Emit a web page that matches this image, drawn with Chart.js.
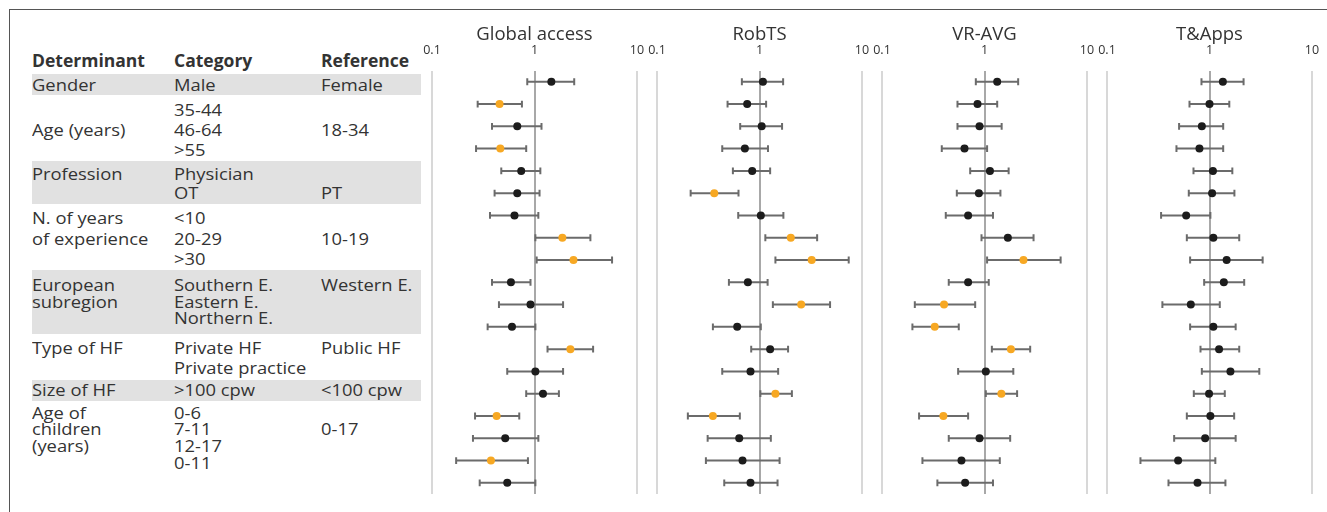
<!DOCTYPE html>
<html>
<head>
<meta charset="utf-8">
<script src="https://cdn.jsdelivr.net/npm/chart.js@4/dist/chart.umd.min.js"></script>
<style>
  html, body { margin: 0; padding: 0; background: #fff; }
  #wrap { position: relative; width: 1327px; height: 512px; overflow: hidden;
          font-family: "Open Sans", "Noto Sans", sans-serif; color: #333; }
  #frameTop { position: absolute; left: 9px; top: 9px; right: 0; height: 0; border-top: 1.5px solid #555; }
  #frameLeft { position: absolute; left: 9px; top: 9px; bottom: 0; width: 0; border-left: 1.5px solid #555; }
  .band { position: absolute; left: 32px; width: 389px; background: #e1e1e1; }
  .cell { position: absolute; white-space: nowrap; font-size: 17px;
          transform: scaleX(1.08); transform-origin: 0 50%; }
  .head { font-weight: 700; transform: scaleX(1.03); }
  canvas { position: absolute; top: 0; }
</style>
</head>
<body>
<div id="wrap">
  <div id="frameTop"></div>
  <div id="frameLeft"></div>
</div>
<script>
// ---- categories (one per plotted row, top to bottom) ----
const categories = ['Male', '35-44', '46-64', '>55', 'Physician', 'OT', '<10', '20-29', '>30',
  'Southern E.', 'Eastern E.', 'Northern E.', 'Private HF', 'Private practice', '>100 cpw',
  '0-6', '7-11', '12-17', '0-11'];

// ---- outcome panels ----
const outcomes = ['Global access', 'RobTS', 'VR-AVG', 'T&Apps'];

// odds ratios, lower and upper 95% CI, significance flag
const globalOR  = [1.46, 0.456, 0.679, 0.464, 0.742, 0.679, 0.638, 1.87, 2.40, 0.589, 0.914, 0.603, 2.24, 1.02, 1.21, 0.427, 0.518, 0.376, 0.542];
const globalLo  = [0.85, 0.279, 0.385, 0.269, 0.474, 0.408, 0.368, 1.02, 1.05, 0.385, 0.45, 0.349, 1.34, 0.542, 0.83, 0.263, 0.251, 0.172, 0.292];
const globalHi  = [2.44, 0.754, 1.17, 0.83, 1.14, 1.12, 1.09, 3.51, 5.71, 0.914, 1.90, 1.02, 3.73, 1.90, 1.73, 0.71, 1.09, 0.863, 1.02];
const globalSig = [0, 1, 0, 1, 0, 0, 0, 1, 1, 0, 0, 0, 1, 0, 0, 1, 0, 1, 0];

const robtsOR  = [1.08, 0.758, 1.05, 0.72, 0.849, 0.362, 1.03, 2.02, 3.23, 0.77, 2.55, 0.606, 1.27, 0.817, 1.43, 0.351, 0.634, 0.683, 0.817];
const robtsLo  = [0.673, 0.488, 0.648, 0.433, 0.55, 0.213, 0.62, 1.14, 1.43, 0.503, 1.35, 0.351, 0.83, 0.433, 1.02, 0.2, 0.312, 0.3, 0.453];
const robtsHi  = [1.70, 1.16, 1.66, 1.21, 1.27, 0.624, 1.71, 3.65, 7.42, 1.20, 4.88, 1.03, 1.90, 1.52, 2.07, 0.643, 1.29, 1.57, 1.50];
const robtsSig = [0, 0, 0, 0, 0, 1, 0, 1, 1, 0, 1, 0, 0, 0, 1, 1, 0, 0, 0];

const vrOR  = [1.33, 0.855, 0.894, 0.638, 1.13, 0.881, 0.692, 1.69, 2.40, 0.692, 0.403, 0.327, 1.81, 1.03, 1.46, 0.397, 0.894, 0.596, 0.647];
const vrLo  = [0.823, 0.545, 0.545, 0.383, 0.725, 0.537, 0.419, 0.935, 1.06, 0.448, 0.209, 0.198, 1.18, 0.553, 1.03, 0.23, 0.448, 0.248, 0.347];
const vrHi  = [2.13, 1.33, 1.47, 1.06, 1.72, 1.43, 1.21, 3.01, 5.53, 1.10, 0.811, 0.561, 2.79, 1.91, 2.08, 0.692, 1.78, 1.41, 1.21];
const vrSig = [0, 0, 0, 0, 0, 0, 0, 0, 1, 0, 1, 1, 1, 0, 1, 1, 0, 0, 0];

const appsOR  = [1.35, 1.0, 0.842, 0.798, 1.08, 1.06, 0.592, 1.09, 1.47, 1.38, 0.657, 1.09, 1.24, 1.60, 0.99, 1.02, 0.907, 0.494, 0.764];
const appsLo  = [0.835, 0.638, 0.505, 0.476, 0.698, 0.628, 0.337, 0.601, 0.647, 0.887, 0.347, 0.647, 0.817, 0.842, 0.703, 0.601, 0.452, 0.212, 0.398];
const appsHi  = [2.15, 1.56, 1.36, 1.36, 1.67, 1.75, 1.02, 1.95, 3.30, 2.18, 1.26, 1.80, 1.95, 3.06, 1.41, 1.74, 1.80, 1.14, 1.43];
const appsSig = [0, 0, 0, 0, 0, 0, 0, 0, 0, 0, 0, 0, 0, 0, 0, 0, 0, 0, 0];

// ---- axis ticks ----
const tickValues = [0.1, 1, 10];
const tickLabels = ['0.1', '1', '10'];

// ---- left-hand table text ----
const headers = ['Determinant', 'Category', 'Reference'];
const determinants = [['Gender'], ['', 'Age (years)'], ['Profession'], ['N. of years', 'of experience'],
  ['European', 'subregion'], ['Type of HF'], ['Size of HF'], ['Age of', 'children', '(years)']];
const categoryLines = [['Male'], ['35-44', '46-64', '>55'], ['Physician', 'OT'], ['<10', '20-29', '>30'],
  ['Southern E.', 'Eastern E.', 'Northern E.'], ['Private HF', 'Private practice'], ['>100 cpw'],
  ['0-6', '7-11', '12-17', '0-11']];
const references = [['Female'], ['', '18-34'], ['', 'PT'], ['', '10-19'], ['Western E.'], ['Public HF'],
  ['<100 cpw'], ['', '0-17']];

// ---- table layout (group band top/height, first line centre, line step) ----
const groupLayout = [
  { top: 73.5, h: 21.5, first: 85, step: 20, band: true },
  { top: 95, h: 65.5, first: 109.5, step: 20.2, band: false },
  { top: 160.5, h: 43.5, first: 174, step: 19.3, band: true },
  { top: 204, h: 66, first: 218.3, step: 20.5, band: false },
  { top: 270, h: 63.5, first: 285, step: 16.7, band: true },
  { top: 333.5, h: 46, first: 348.3, step: 20, band: false },
  { top: 379.5, h: 21.5, first: 390, step: 20, band: true },
  { top: 401, h: 80, first: 412.7, step: 16.7, band: false }
];
const colX = [32, 174, 321];
const LINE_H = 20;

const wrap = document.getElementById('wrap');
function addCell(text, x, yCenter, cls) {
  const d = document.createElement('div');
  d.className = 'cell' + (cls ? ' ' + cls : '');
  d.textContent = text;
  d.style.left = x + 'px';
  d.style.top = (yCenter - LINE_H / 2) + 'px';
  d.style.lineHeight = LINE_H + 'px';
  wrap.appendChild(d);
}
groupLayout.forEach(g => {
  if (g.band) {
    const b = document.createElement('div');
    b.className = 'band';
    b.style.top = g.top + 'px';
    b.style.height = g.h + 'px';
    wrap.appendChild(b);
  }
});
headers.forEach((h, c) => addCell(h, colX[c], 61, 'head'));
groupLayout.forEach((g, i) => {
  [determinants[i], categoryLines[i], references[i]].forEach((lines, c) => {
    lines.forEach((t, k) => { if (t) addCell(t, colX[c], g.first + k * g.step); });
  });
});

// ---- forest plot panels ----
const BLACK = '#1c1c1c';
const ORANGE = '#f7a823';
const WHISKER = '#6b6b6b';
const TITLE_Y = 35;

// panel heading, centred over the plotting area
const panelTitle = {
  id: 'panelTitle',
  afterDraw(chart, args, opts) {
    const { ctx, chartArea } = chart;
    ctx.save();
    ctx.font = '18.5px "Open Sans", sans-serif';
    ctx.fillStyle = '#333';
    ctx.textAlign = 'center';
    ctx.textBaseline = 'middle';
    ctx.fillText(opts.text, (chartArea.left + chartArea.right) / 2, TITLE_Y);
    ctx.restore();
  }
};

const panels = [
  { title: outcomes[0], or: globalOR, lo: globalLo, hi: globalHi, sig: globalSig, left: 432 },
  { title: outcomes[1], or: robtsOR,  lo: robtsLo,  hi: robtsHi,  sig: robtsSig,  left: 657 },
  { title: outcomes[2], or: vrOR,     lo: vrLo,     hi: vrHi,     sig: vrSig,     left: 882 },
  { title: outcomes[3], or: appsOR,   lo: appsLo,   hi: appsHi,   sig: appsSig,   left: 1107 }
];
const PAD = 16, AREA_W = 205;

panels.forEach(p => {
  const cv = document.createElement('canvas');
  cv.width = AREA_W + 2 * PAD;
  cv.height = 512;
  cv.style.left = (p.left - PAD) + 'px';
  wrap.appendChild(cv);

  const datasets = [];
  // point estimates, drawn on top
  datasets.push({
    type: 'scatter',
    data: categories.map((c, i) => ({ x: p.or[i], y: i + 1 })),
    pointRadius: 4,
    pointBorderWidth: 0,
    pointBackgroundColor: p.sig.map(s => s ? ORANGE : BLACK),
    order: 0
  });
  // confidence intervals with end caps
  categories.forEach((c, i) => {
    datasets.push({
      type: 'line',
      data: [{ x: p.lo[i], y: i + 1 }, { x: p.hi[i], y: i + 1 }],
      borderColor: WHISKER,
      borderWidth: 2,
      pointStyle: 'line',
      rotation: 90,
      pointRadius: 3.4,
      pointBorderWidth: 2,
      pointBorderColor: WHISKER,
      fill: false,
      order: 1
    });
  });

  new Chart(cv, {
    data: { datasets },
    plugins: [panelTitle],
    options: {
      responsive: false,
      animation: false,
      events: [],
      devicePixelRatio: 1,
      layout: { padding: { top: 29.6, bottom: 18, left: PAD, right: PAD } },
      plugins: {
        legend: { display: false },
        tooltip: { enabled: false },
        title: { display: false },
        panelTitle: { text: p.title }
      },
      scales: {
        x: {
          type: 'logarithmic', position: 'top', min: 0.1, max: 10,
          afterBuildTicks: s => { s.ticks = tickValues.map(v => ({ value: v })); },
          // edge labels may spill into the canvas margin
          afterFit: s => { s.paddingLeft = 0; s.paddingRight = 0; },
          ticks: {
            callback: (v) => tickLabels[tickValues.indexOf(v)] ?? '',
            color: '#333', padding: 13, maxRotation: 0, autoSkip: false,
            font: { family: '"Open Sans", sans-serif', size: 12.5 }
          },
          grid: {
            drawTicks: false,
            color: ctx => (ctx.tick && ctx.tick.value === 1) ? '#a8a8a8' : '#d8d8d8',
            lineWidth: 2
          },
          border: { display: false }
        },
        y: { type: 'linear', min: 0.5, max: categories.length + 0.5, reverse: true, display: false }
      }
    }
  });
});
</script>
</body>
</html>
